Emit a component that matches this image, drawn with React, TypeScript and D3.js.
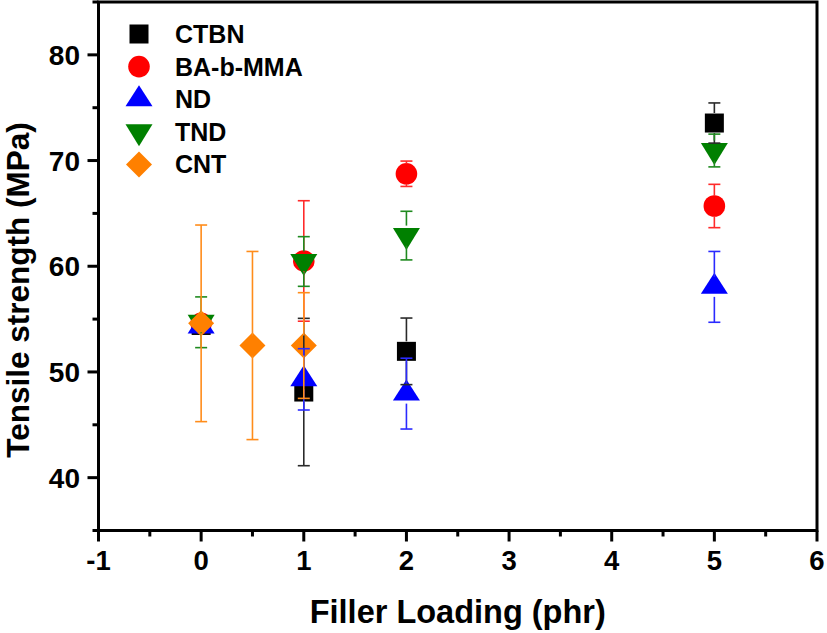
import React from 'react';
import * as d3 from 'd3';

const W = 827;
const H = 633;

const xMajorTicks = [-1, 0, 1, 2, 3, 4, 5, 6];
const xMinorTicks = [-0.5, 0.5, 1.5, 2.5, 3.5, 4.5, 5.5];
const yMajorTicks = [40, 50, 60, 70, 80];
const yMinorTicks = [35, 45, 55, 65, 75, 85];

const seriesNames = ['CTBN', 'BA-b-MMA', 'ND', 'TND', 'CNT'];

const ctbnX = [0, 1, 2, 5];
const ctbnY = [54.4, 48.1, 51.95, 73.55];
const ctbnErr = [0, 6.97, 3.15, 1.9];

const babX = [0, 1, 2, 5];
const babY = [54.6, 60.5, 68.75, 65.7];
const babErr = [0, 5.7, 1.2, 2.05];

const ndX = [0, 1, 2, 5];
const ndY = [54.3, 49.3, 47.95, 58.05];
const ndErr = [0, 2.9, 3.35, 3.35];

const tndX = [0, 1, 2, 5];
const tndY = [54.7, 60.45, 62.9, 70.95];
const tndErr = [2.4, 2.35, 2.3, 1.55];

const cntX = [0, 0.5, 1];
const cntY = [54.6, 52.5, 52.5];
const cntErr = [9.3, 8.9, 5.0];

const FONT = "'Liberation Sans', Arial, sans-serif";

type Shape = 'square' | 'circle' | 'triUp' | 'triDown' | 'diamond';

const series = [
  { name: seriesNames[0], xs: ctbnX, ys: ctbnY, errs: ctbnErr, shape: 'square' as Shape, fill: '#000000', bar: '#2a2a2a' },
  { name: seriesNames[1], xs: babX, ys: babY, errs: babErr, shape: 'circle' as Shape, fill: '#ff0000', bar: '#ff2a2a' },
  { name: seriesNames[2], xs: ndX, ys: ndY, errs: ndErr, shape: 'triUp' as Shape, fill: '#0000ff', bar: '#2a2aff' },
  { name: seriesNames[3], xs: tndX, ys: tndY, errs: tndErr, shape: 'triDown' as Shape, fill: '#008000', bar: '#1f8a1f' },
  { name: seriesNames[4], xs: cntX, ys: cntY, errs: cntErr, shape: 'diamond' as Shape, fill: '#ff8000', bar: '#ff8c1a' },
];

function Marker({ shape, x, y, fill }: { shape: Shape; x: number; y: number; fill: string }) {
  if (shape === 'square') return <rect x={x - 9.5} y={y - 9.5} width={19} height={19} fill={fill} />;
  if (shape === 'circle') return <circle cx={x} cy={y} r={10.8} fill={fill} />;
  let d = '';
  if (shape === 'triUp') d = 'M0,-14L13.5,7L-13.5,7Z';
  if (shape === 'triDown') d = 'M0,14.5L13.5,-7.5L-13.5,-7.5Z';
  if (shape === 'diamond') d = 'M0,-13L13,0L0,13L-13,0Z';
  return <path d={d} transform={`translate(${x},${y})`} fill={fill} />;
}

export default function App() {
  const x0 = 98.5, x1 = 817, yTop = 2, yBot = 530.5;
  const xs = d3.scaleLinear().domain([-1, 6]).range([x0, x1]);
  const ys = d3.scaleLinear().domain([35, 85]).range([yBot, yTop]);
  const AX = 3;
  const gap = 10;
  const cap = 6;

  return (
    <svg width={W} height={H} style={{ position: 'absolute', left: 0, top: 0, background: '#fff' }}>
      {/* markers */}
      {series.map((s) =>
        s.xs.map((xv, i) => (
          <Marker key={s.name + i} shape={s.shape} x={xs(xv)} y={ys(s.ys[i])} fill={s.fill} />
        ))
      )}
      {/* error bars */}
      {series.map((s) =>
        s.xs.map((xv, i) => {
          const e = s.errs[i];
          if (!e) return null;
          const cx = xs(xv);
          const cy = ys(s.ys[i]);
          const top = ys(s.ys[i] + e);
          const bot = ys(s.ys[i] - e);
          const segs: JSX.Element[] = [];
          if (cy - gap > top) segs.push(<line key="u" x1={cx} x2={cx} y1={cy - gap} y2={top} />);
          if (cy + gap < bot) segs.push(<line key="d" x1={cx} x2={cx} y1={cy + gap} y2={bot} />);
          segs.push(<line key="ct" x1={cx - cap} x2={cx + cap} y1={top} y2={top} />);
          segs.push(<line key="cb" x1={cx - cap} x2={cx + cap} y1={bot} y2={bot} />);
          return (
            <g key={'e' + s.name + i} stroke={s.bar} strokeWidth={1.6} fill="none">
              {segs}
            </g>
          );
        })
      )}

      {/* frame */}
      <rect x={x0} y={yTop} width={x1 - x0} height={yBot - yTop} fill="none" stroke="#000" strokeWidth={AX} />

      {/* x ticks */}
      {xMajorTicks.map((t) => (
        <g key={'xt' + t}>
          <line x1={xs(t)} x2={xs(t)} y1={yBot} y2={yBot + 11} stroke="#000" strokeWidth={AX} />
          <text x={xs(t)} y={570} textAnchor="middle" fontFamily={FONT} fontWeight="bold" fontSize={27.5} fill="#000">
            {t}
          </text>
        </g>
      ))}
      {xMinorTicks.map((t) => (
        <line key={'xm' + t} x1={xs(t)} x2={xs(t)} y1={yBot} y2={yBot + 6} stroke="#000" strokeWidth={AX} />
      ))}

      {/* y ticks */}
      {yMajorTicks.map((t) => (
        <g key={'yt' + t}>
          <line x1={x0} x2={x0 - 11} y1={ys(t)} y2={ys(t)} stroke="#000" strokeWidth={AX} />
          <text x={80} y={ys(t)} dy="0.36em" textAnchor="end" fontFamily={FONT} fontWeight="bold" fontSize={28} fill="#000">
            {t}
          </text>
        </g>
      ))}
      {yMinorTicks.map((t) => (
        <line key={'ym' + t} x1={x0} x2={x0 - 6} y1={ys(t)} y2={ys(t)} stroke="#000" strokeWidth={AX} />
      ))}

      {/* axis titles */}
      <text x={(x0 + x1) / 2} y={623} textAnchor="middle" fontFamily={FONT} fontWeight="bold" fontSize={32.5} fill="#000">
        Filler Loading (phr)
      </text>
      <text
        transform={`translate(29,290) rotate(-90)`}
        textAnchor="middle"
        fontFamily={FONT}
        fontWeight="bold"
        fontSize={31.5}
        fill="#000"
      >
        Tensile strength (MPa)
      </text>

      {/* legend */}
      {series.map((s, i) => {
        const ry = 34 + i * 32.6;
        return (
          <g key={'lg' + s.name}>
            <Marker shape={s.shape} x={139} y={ry} fill={s.fill} />
            <text x={175} y={ry} dy="0.36em" fontFamily={FONT} fontWeight="bold" fontSize={25} fill="#000">
              {s.name}
            </text>
          </g>
        );
      })}
    </svg>
  );
}
